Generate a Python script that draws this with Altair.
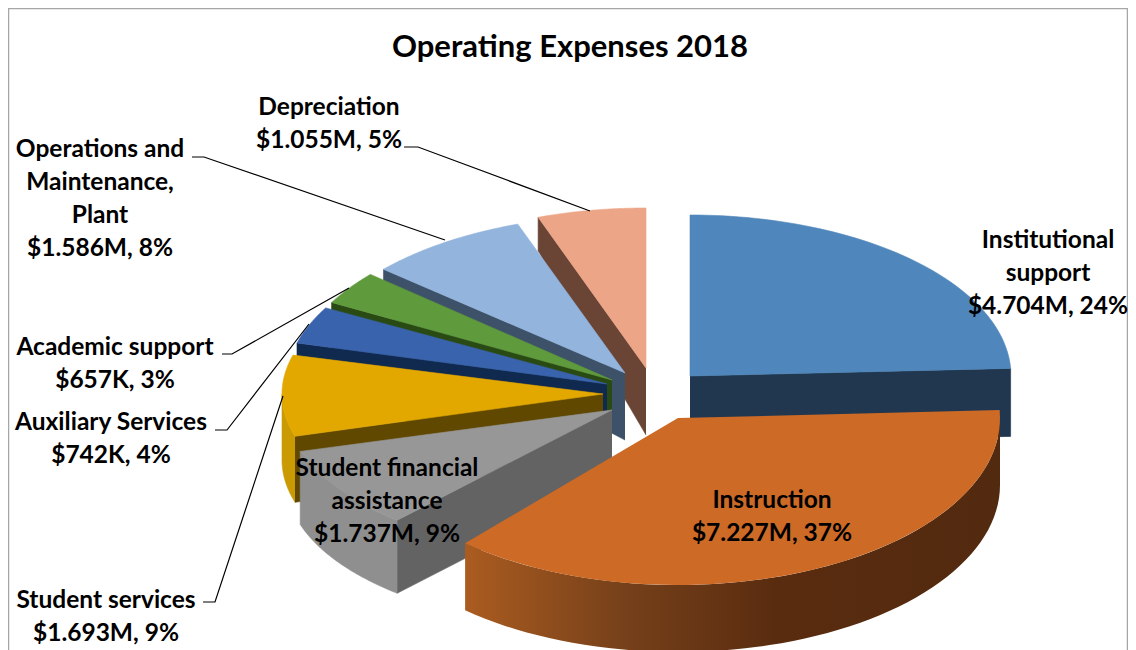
import numpy as np
import pandas as pd
import altair as alt

# ---- data ----
categories = ["Institutional support", "Instruction", "Student financial assistance",
              "Student services", "Auxiliary Services", "Academic support",
              "Operations and Maintenance, Plant", "Depreciation"]
values_k = [4704, 7227, 1737, 1693, 742, 657, 1586, 1055]
value_text = ["$4.704M", "$7.227M", "$1.737M", "$1.693M", "$742K", "$657K", "$1.586M", "$1.055M"]
percents = [24, 37, 9, 9, 4, 3, 8, 5]

# ---- styling ----
top_colors = ["#4f86bb", "#cc6a26", "#979797", "#e3a800", "#3a63ad", "#5f9b3d", "#92b4dd", "#eda587"]
cut_colors = ["#20374f", "#552a0e", "#636363", "#604800", "#10294f", "#2a4a14", "#3d5268", "#6a4535"]
rim_colors = ["#20374f", "#552a0e", "#8f8f8f", "#c99a02", "#10294f", "#2a4a14", "#3d5268", "#6a4535"]

# ---- layout of the exploded, tilted pie (page pixels) ----
cx = [690, 678, 612, 603, 607, 612, 625, 646]
cy = [376, 418, 410, 394, 384, 380, 373, 368]
rx = [321, 322, 325, 321, 321, 320, 320, 322]
ry = [161, 167, 147, 150, 158, 161, 158, 160]
depth = [68, 67, 73, 66, 67, 67, 67, 67]
draw_order = [0, 7, 6, 5, 4, 3, 2]          # back to front; Instruction goes last

label_lines = [
    (1048, [241, 274, 307], ["Institutional", "support", "$4.704M, 24%"]),
    (772, [501, 534], ["Instruction", "$7.227M, 37%"]),
    (387, [469, 502, 535], ["Student financial", "assistance", "$1.737M, 9%"]),
    (106, [601, 634], ["Student services", "$1.693M, 9%"]),
    (111, [423, 456], ["Auxiliary Services", "$742K, 4%"]),
    (115, [348, 381], ["Academic support", "$657K, 3%"]),
    (100, [150, 183, 216, 249], ["Operations and", "Maintenance,", "Plant", "$1.586M, 8%"]),
    (329, [108, 141], ["Depreciation", "$1.055M, 5%"]),
]
leaders = [
    [(404, 147), (418, 147), (590, 211)],
    [(192, 157), (204, 157), (445, 240)],
    [(222, 354), (232, 354), (349, 288)],
    [(215, 430), (227, 430), (309, 324)],
    [(203, 602), (215, 602), (283, 396)],
]
frame = [(8.5, 650), (8.5, 8.5), (1127.5, 8.5), (1127.5, 650)]

# ---- slice outlines, derived from the values ----
total = sum(values_k)
edges = np.cumsum([0] + values_k) / total * 360.0


def rim(i, a0, a1, n=60):
    t = np.radians(np.linspace(a0, a1, n))
    return cx[i] + rx[i] * np.sin(t), cy[i] - ry[i] * np.cos(t)


def drop(i, y):
    return depth[i] * np.clip(0.5 + (np.asarray(y, float) - 218) / 300.0, 0.5, 1.0)


def polygon(pid, xs, ys, color):
    return pd.DataFrame({"pid": pid, "o": range(len(xs)), "x": xs, "y": ys, "fill": color})


def top_poly(pid, i):
    x, y = rim(i, edges[i], edges[i + 1])
    return polygon(pid, [cx[i], *x, cx[i]], [cy[i], *y, cy[i]], top_colors[i])


def cut_poly(pid, i, a):
    x, y = rim(i, a, a, 1)
    xs = [cx[i], x[0], x[0], cx[i]]
    ys = [cy[i], y[0], y[0] + drop(i, y[0]), cy[i] + drop(i, cy[i])]
    return polygon(pid, xs, ys, cut_colors[i])


def wall_poly(pid, i, a0, a1):
    x, y = rim(i, a0, a1)
    return polygon(pid, [*x, *x[::-1]], [*y, *(y + depth[i])[::-1]], rim_colors[i])


parts = []
pid = 0
for i in draw_order:
    a0, a1 = edges[i], edges[i + 1]
    # front-facing cut edge: the clockwise-end edge for the first slice, the start edge for the others
    parts.append(cut_poly(pid, i, a1 if i == 0 else a0)); pid += 1
    lo, hi = max(a0, 90), min(a1, 270)
    if lo < hi:
        parts.append(wall_poly(pid, i, lo, hi)); pid += 1
    parts.append(top_poly(pid, i)); pid += 1
back = pd.concat(parts, ignore_index=True)
orange_wall = wall_poly(0, 1, 90, edges[2]).sort_values("o")
orange_top = top_poly(0, 1)

leader_df = pd.DataFrame([
    {"k": k, "o": o, "x": p[0], "y": p[1]} for k, seg in enumerate(leaders) for o, p in enumerate(seg)
])
frame_df = pd.DataFrame([{"o": o, "x": p[0], "y": p[1]} for o, p in enumerate(frame)])
text_df = pd.DataFrame([
    {"x": x, "y": y, "t": t} for x, ys, ts in label_lines for y, t in zip(ys, ts)
])
title_df = pd.DataFrame([{"x": 570, "y": 48, "t": "Operating Expenses 2018"}])

# page pixels -> plot area (page margin is 8px)
X = alt.X("x:Q", scale=alt.Scale(domain=[8, 1128], range=[0, 1120]), axis=None)
Y = alt.Y("y:Q", scale=alt.Scale(domain=[8, 650], range=[0, 642]), axis=None)
FONT = "Lato"

frame_l = alt.Chart(frame_df).mark_line(color="#a6a6a6", strokeWidth=1.5, clip=True).encode(x=X, y=Y, order="o:Q")
slices = alt.Chart(back).mark_line(filled=True, strokeWidth=0.6, clip=True).encode(
    x=X, y=Y, order="o:Q", detail="pid:N",
    fill=alt.Fill("fill:N", scale=None), stroke=alt.Stroke("fill:N", scale=None))
o_wall = alt.Chart(orange_wall).mark_line(
    filled=True, clip=True,
    fill=alt.Gradient(gradient="linear", x1=0, x2=1, y1=0, y2=0, stops=[
        alt.GradientStop(offset=0, color="#ab5c20"),
        alt.GradientStop(offset=0.3, color="#75401a"),
        alt.GradientStop(offset=0.58, color="#5a2c0f"),
        alt.GradientStop(offset=1, color="#522a0f")]),
).encode(x=X, y=Y, order="o:Q")
o_top = alt.Chart(orange_top).mark_line(filled=True, clip=True, fill=top_colors[1]).encode(x=X, y=Y, order="o:Q")
lead = alt.Chart(leader_df).mark_line(color="#000000", strokeWidth=1.2).encode(x=X, y=Y, order="o:Q", detail="k:N")
labels = alt.Chart(text_df).mark_text(font=FONT, fontWeight="bold", fontSize=24.5, color="#000000",
                                      align="center", baseline="middle").encode(x=X, y=Y, text="t:N")
title = alt.Chart(title_df).mark_text(font=FONT, fontWeight="bold", fontSize=31, color="#000000",
                                      align="center", baseline="middle").encode(x=X, y=Y, text="t:N")

chart = alt.layer(frame_l, slices, o_wall, o_top, lead, labels, title).properties(
    width=1120, height=642, padding=0,
    autosize=alt.AutoSizeParams(type="none"),
    background="#ffffff",
).configure_view(stroke=None)

chart.save("out.html", embed_options={"renderer": "svg", "actions": False})
